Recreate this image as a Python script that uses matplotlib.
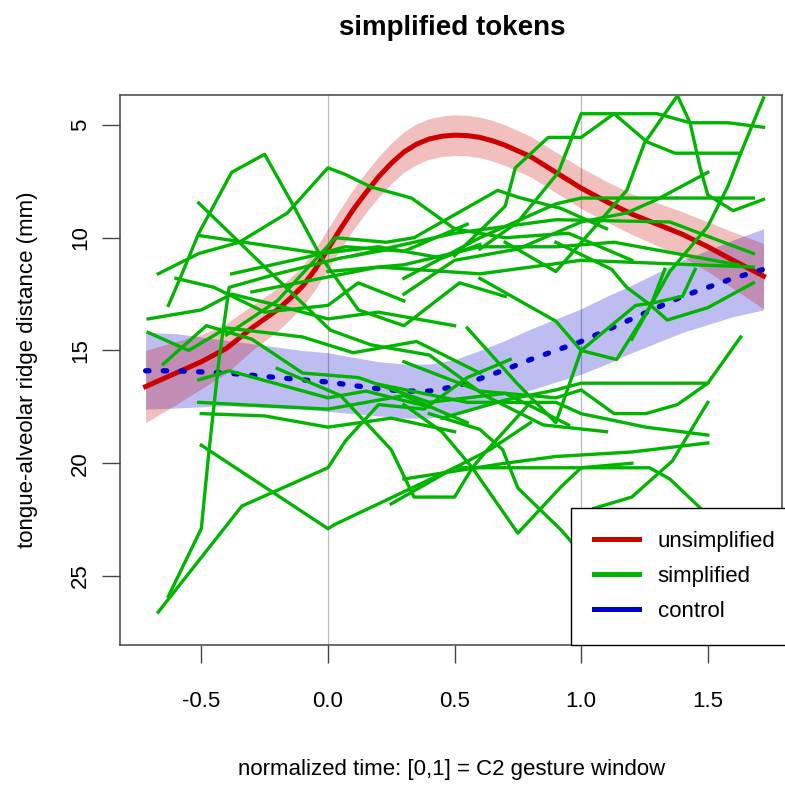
import matplotlib
matplotlib.use("Agg")
import matplotlib.pyplot as plt
from matplotlib.lines import Line2D

plt.rcParams["font.family"] = ["Liberation Sans", "DejaVu Sans"]

# mean curves (normalized time vs. distance in mm)
unsimp_x = [-0.72, -0.6, -0.5, -0.4, -0.3, -0.2, -0.15, -0.1, -0.05, 0.0, 0.05, 0.1, 0.15,
            0.2, 0.25, 0.3, 0.35, 0.4, 0.45, 0.5, 0.55, 0.6, 0.65, 0.7, 0.75, 0.8, 0.85,
            0.9, 0.95, 1.0, 1.1, 1.2, 1.3, 1.4, 1.5, 1.6, 1.72]
unsimp_mean = [16.6, 16.0, 15.5, 14.9, 14.0, 13.2, 12.7, 12.15, 11.4, 10.5, 9.6, 8.75, 8.0,
               7.3, 6.7, 6.2, 5.85, 5.62, 5.5, 5.45, 5.47, 5.55, 5.7, 5.9, 6.15, 6.4, 6.75,
               7.1, 7.45, 7.8, 8.4, 8.95, 9.4, 9.85, 10.4, 11.0, 11.7]
unsimp_se = [1.6, 1.4, 1.2, 1.1, 1.0, 0.95, 0.92, 0.9, 0.9, 0.9, 0.9, 0.9, 0.9,
             0.9, 0.9, 0.9, 0.9, 0.9, 0.9, 0.9, 0.9, 0.9, 0.9, 0.9, 0.9, 0.9, 0.9,
             0.9, 0.9, 0.9, 0.9, 0.9, 0.95, 1.0, 1.1, 1.25, 1.45]
control_x = [-0.72, -0.6, -0.5, -0.4, -0.3, -0.2, -0.1, 0.0, 0.1, 0.2, 0.3, 0.4, 0.5,
             0.6, 0.7, 0.8, 0.9, 1.0, 1.1, 1.2, 1.3, 1.4, 1.5, 1.6, 1.72]
control_mean = [15.9, 15.9, 15.95, 16.0, 16.1, 16.2, 16.3, 16.4, 16.55, 16.7, 16.8, 16.8, 16.6,
                16.25, 15.85, 15.4, 15.0, 14.6, 14.1, 13.6, 13.1, 12.6, 12.2, 11.8, 11.4]
control_se = [1.7, 1.65, 1.55, 1.45, 1.4, 1.35, 1.3, 1.3, 1.25, 1.2, 1.2, 1.2, 1.2,
              1.25, 1.3, 1.35, 1.4, 1.45, 1.5, 1.5, 1.55, 1.6, 1.65, 1.7, 1.8]

# individual simplified tokens
token_x = [
    [-0.67, -0.34, 0.0, 0.07, 0.2, 0.38, 0.55, 0.72],
    [-0.63, -0.5, -0.47, -0.43, -0.39, -0.2, 0.05, 0.25],
    [-0.51, -0.24, -0.11, 0.01, 0.17, 0.4, 0.62, 0.85, 1.1],
    [-0.63, -0.58, -0.51, -0.38, -0.25, -0.14, -0.03, 0.12, 0.3, 0.52, 0.7],
    [-0.67, -0.51, -0.35, -0.16, 0.0, 0.07, 0.17, 0.33, 0.5, 0.7, 0.95, 1.2],
    [-0.5, 0.0, 0.03, 0.5, 0.64, 0.8],
    [-0.2, 0.05, 0.25, 0.34, 0.5, 0.57, 0.63, 0.8],
    [0.3, 0.45, 0.57, 0.75, 0.92, 1.0, 1.2],
    [0.4, 0.6, 0.69, 0.75, 0.92, 0.97],
    [0.25, 0.5, 1.0, 1.27, 1.35, 1.5],
    [0.55, 0.75, 0.9, 1.0, 1.14, 1.275, 1.33],
    [0.6, 0.9, 1.0, 1.215, 1.28, 1.4, 1.45],
    [0.9, 1.12, 1.18, 1.275, 1.34, 1.5, 1.68],
    [0.45, 0.7, 0.9, 1.0, 1.5, 1.63],
    [0.3, 0.6, 0.9, 1.0, 1.13, 1.255, 1.38, 1.5],
    [0.2, 0.55, 0.9, 1.0, 1.255, 1.5],
    [0.3, 0.7, 0.9, 1.2, 1.5],
    [1.05, 1.2, 1.36, 1.5],
    [0.5, 0.7, 0.74, 0.87, 1.0, 1.13, 1.26, 1.37, 1.63],
    [0.6, 0.75, 0.91, 1.0, 1.3, 1.43, 1.58, 1.72],
    [1.2, 1.35, 1.5, 1.58, 1.63, 1.72],
    [0.7, 0.9, 1.18, 1.25, 1.38, 1.43, 1.47, 1.5, 1.6, 1.72],
    [0.3, 0.5, 0.75, 1.0, 1.18, 1.3, 1.5],
    [0.3, 0.6, 0.9, 1.0, 1.68],
    [0.1, 0.5, 0.9, 1.35, 1.68],
    [0.0, 0.3, 0.6, 0.9, 1.13, 1.62],
    [-0.3, 0.2, 0.6, 1.0, 1.68],
    [-0.4, -0.2, 0.03, 0.23, 0.34, 0.67, 0.75, 0.92, 1.1],
    [-0.71, -0.5, -0.38, -0.2, 0.0, 0.2, 0.5],
    [-0.71, -0.55, -0.4, -0.1, 0.1, 0.35, 0.6],
    [-0.65, -0.48, -0.3, -0.1, 0.12, 0.4, 0.7, 0.95],
    [-0.5, -0.25, 0.0, 0.25, 0.5],
    [-0.51, -0.39, -0.26, 0.0, 0.15, 0.4],
    [-0.51, 0.0, 0.3, 0.55],
    [-0.6, -0.45, -0.25, 0.0, 0.12, 0.3],
    [-0.51, -0.03, 0.2, 0.45, 0.6],
    [-0.38, -0.08, 0.07, 0.3, 0.55],
]
token_y = [
    [26.6, 21.9, 20.2, 19.0, 17.4, 17.6, 16.2, 15.4],
    [25.9, 22.9, 19.5, 15.4, 12.2, 11.6, 10.9, 10.5],
    [8.46, 11.4, 12.8, 14.1, 14.75, 15.2, 17.0, 18.3, 18.6],
    [13.0, 11.7, 9.8, 7.1, 6.3, 8.5, 10.8, 13.2, 13.9, 12.0, 12.6],
    [11.6, 10.7, 10.2, 8.9, 6.9, 7.2, 7.75, 8.24, 9.6, 10.0, 9.8, 11.0],
    [19.2, 22.9, 22.7, 20.2, 19.4, 18.2],
    [15.8, 17.0, 19.4, 21.5, 21.5, 20.2, 19.4, 17.3],
    [17.4, 18.6, 20.2, 23.1, 21.05, 20.2, 20.0],
    [17.8, 18.5, 19.4, 21.1, 22.95, 23.6],
    [21.8, 20.2, 20.2, 20.2, 20.7, 22.3],
    [14.0, 16.5, 18.2, 15.0, 15.4, 13.0, 11.4],
    [11.8, 13.7, 15.0, 13.0, 12.9, 12.6, 11.4],
    [10.2, 11.4, 12.2, 13.0, 13.65, 13.1, 12.0],
    [18.0, 17.2, 16.75, 16.45, 16.45, 14.4],
    [15.5, 16.8, 17.1, 16.75, 17.8, 17.8, 17.4, 16.45],
    [16.5, 17.3, 17.3, 17.8, 18.4, 18.75],
    [20.7, 20.0, 19.7, 19.5, 19.1],
    [22.0, 21.5, 19.9, 17.3],
    [10.8, 8.6, 6.9, 5.55, 5.55, 4.5, 5.75, 6.25, 6.25],
    [10.5, 9.3, 7.1, 4.5, 4.5, 4.9, 4.9, 5.1],
    [14.5, 11.5, 9.5, 7.7, 6.25, 3.8],
    [10.2, 11.5, 7.9, 5.8, 3.7, 4.9, 6.9, 8.1, 8.8, 8.3],
    [12.5, 11.0, 10.5, 9.3, 8.9, 8.3, 7.1],
    [11.8, 10.0, 8.5, 8.24, 8.24],
    [10.8, 9.8, 9.2, 9.3, 10.7],
    [11.5, 11.2, 10.4, 10.4, 10.2, 11.2],
    [12.4, 11.3, 11.6, 11.0, 11.3],
    [14.3, 12.8, 10.0, 10.2, 10.0, 7.9, 8.2, 8.7, 9.6],
    [13.6, 13.2, 12.5, 13.0, 13.6, 13.3, 13.9],
    [14.2, 15.0, 14.0, 14.4, 15.1, 14.6, 16.0],
    [15.6, 13.9, 14.5, 16.0, 16.2, 17.3, 16.9, 18.3],
    [17.8, 17.9, 18.4, 18.0, 18.6],
    [16.3, 15.9, 16.3, 17.1, 16.8, 17.5],
    [17.3, 17.6, 17.0, 18.2],
    [11.8, 12.2, 13.3, 13.0, 12.0, 12.8],
    [9.9, 10.7, 10.4, 10.9, 10.3],
    [11.6, 10.85, 10.4, 10.6, 9.4],
]

legend_labels = ["unsimplified", "simplified", "control"]
red, green, blue = "#cd0000", "#00b400", "#0000cd"

fig = plt.figure(figsize=(7.85, 7.87), dpi=100)
ax = fig.add_axes([120 / 785, 1 - 645 / 787, 662 / 785, 550 / 787])

lo_u = [m - s for m, s in zip(unsimp_mean, unsimp_se)]
hi_u = [m + s for m, s in zip(unsimp_mean, unsimp_se)]
lo_c = [m - s for m, s in zip(control_mean, control_se)]
hi_c = [m + s for m, s in zip(control_mean, control_se)]

ax.axvline(0, color="#bbbbbb", lw=0.9, zorder=0)
ax.axvline(1, color="#bbbbbb", lw=0.9, zorder=0)
ax.fill_between(control_x, lo_c, hi_c, color=blue, alpha=0.26, lw=0, zorder=1)
ax.fill_between(unsimp_x, lo_u, hi_u, color=red, alpha=0.25, lw=0, zorder=1)
ax.plot(unsimp_x, unsimp_mean, color=red, lw=3.6, zorder=2, solid_joinstyle="round")
ax.plot(control_x, control_mean, color=blue, lw=3.8, zorder=2,
        linestyle=(0, (0.65, 2.7)), dash_capstyle="round")

for tx, ty in zip(token_x, token_y):
    ax.plot(tx, ty, color=green, lw=2.4, zorder=3)

ax.set_xlim(-0.821, 1.793)
ax.set_ylim(28.06, 3.67)
ax.set_xticks([-0.5, 0.0, 0.5, 1.0, 1.5])
ax.set_xticklabels(["-0.5", "0.0", "0.5", "1.0", "1.5"])
ax.set_yticks([5, 10, 15, 20, 25])
ax.tick_params(axis="both", length=13, width=1, color="#444444", labelsize=16)
ax.tick_params(axis="x", pad=20)
ax.tick_params(axis="y", pad=8, labelrotation=90)
for lab in ax.get_yticklabels():
    lab.set_va("center")
for sp in ax.spines.values():
    sp.set_color("#444444")
    sp.set_linewidth(1.1)

# legend box anchored at its lower-left corner; runs off the right edge like the original
handles = [Line2D([], [], color=c, lw=3.6) for c in (red, green, blue)]
leg = ax.legend(handles, legend_labels, loc="lower left", fontsize=16,
                bbox_to_anchor=(571 / 785, 1 - 645 / 787), bbox_transform=fig.transFigure,
                frameon=True, fancybox=False, framealpha=1, edgecolor="black",
                borderaxespad=0, borderpad=1.05, handlelength=2.0,
                handletextpad=0.85, labelspacing=0.62)
leg.get_frame().set_linewidth(1.0)
leg.set_zorder(5)

fig.text(452 / 785, 1 - 28 / 787, "simplified tokens", ha="center", va="center",
         fontsize=20, fontweight="bold")
fig.text(452 / 785, 1 - 770 / 787, "normalized time: [0,1] = C2 gesture window",
         ha="center", va="center", fontsize=16)
fig.text(28 / 785, 1 - 370 / 787, "tongue-alveolar ridge distance (mm)",
         ha="center", va="center", rotation=90, fontsize=16)

fig.savefig("out.png", dpi=100)
